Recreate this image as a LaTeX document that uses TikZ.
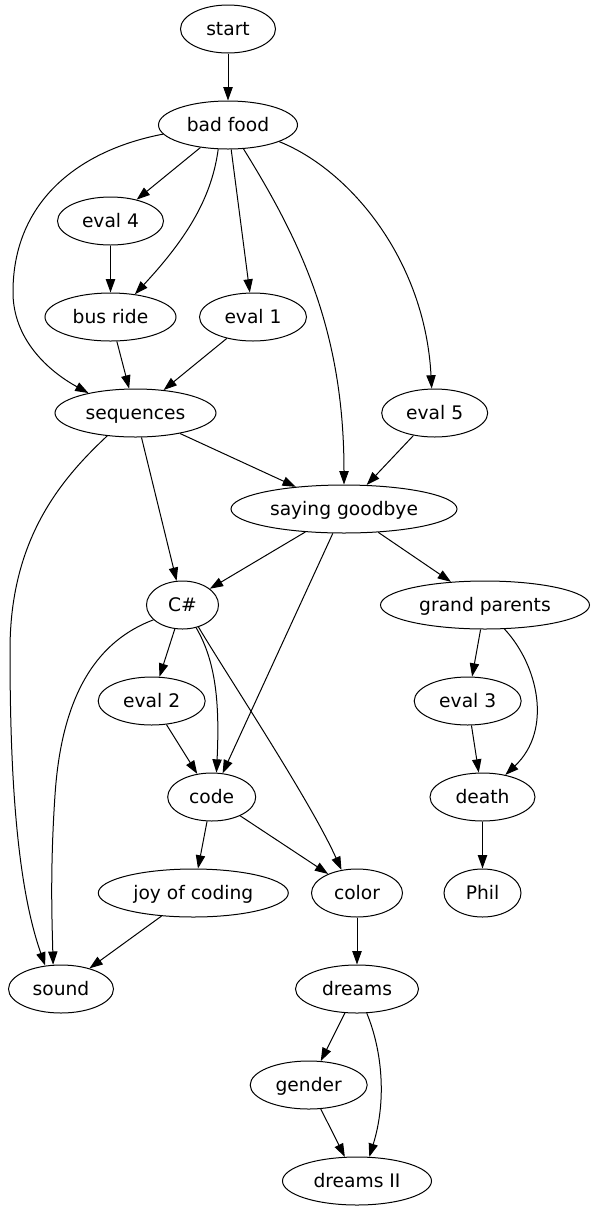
\documentclass[tikz,border=0pt]{standalone}
\usepackage{fontspec}
\setmainfont{DejaVu Sans}
\usetikzlibrary{shapes.geometric,arrows.meta}
\begin{document}
\begin{tikzpicture}[x=1pt,y=-1pt,
  gnode/.style={ellipse,draw,line width=1pt,minimum height=48pt,inner sep=0pt,
    text height=13.6pt,text depth=1.6pt,
    font=\fontsize{18.67}{22}\selectfont},
  edge/.style={line width=1pt,-{Triangle[length=13.3pt,width=9.3pt]}}]
\useasboundingbox (0,0) rectangle (595,1211);
% nodes
\node[gnode,minimum width=95pt]  (start)     at (228,29)    {start};
\node[gnode,minimum width=139pt] (badfood)   at (228,125)   {bad food};
\node[gnode,minimum width=106pt] (evalfour)  at (110.5,221) {eval 4};
\node[gnode,minimum width=131pt] (busride)   at (110.5,317) {bus ride};
\node[gnode,minimum width=107pt] (evalone)   at (253,317)   {eval 1};
\node[gnode,minimum width=161pt] (seq)       at (135.5,413) {sequences};
\node[gnode,minimum width=106pt] (evalfive)  at (434.7,413) {eval 5};
\node[gnode,minimum width=226pt] (sg)        at (344,509)   {saying goodbye};
\node[gnode,minimum width=72pt]  (cs)        at (182.5,605) {C\#};
\node[gnode,minimum width=209pt] (gp)        at (485,605)   {grand parents};
\node[gnode,minimum width=107pt] (evaltwo)   at (151.7,701) {eval 2};
\node[gnode,minimum width=107pt] (evalthree) at (467.7,701) {eval 3};
\node[gnode,minimum width=88pt]  (code)      at (211.7,797) {code};
\node[gnode,minimum width=105pt] (death)     at (482.5,797) {death};
\node[gnode,minimum width=190pt] (joy)       at (193.3,893) {joy of coding};
\node[gnode,minimum width=91pt]  (color)     at (357,893)   {color};
\node[gnode,minimum width=77pt]  (phil)      at (482.5,893) {Phil};
\node[gnode,minimum width=105pt] (sound)     at (61,989)    {sound};
\node[gnode,minimum width=123pt] (dreams)    at (357,989)   {dreams};
\node[gnode,minimum width=117pt] (gender)    at (308.7,1085){gender};
\node[gnode,minimum width=149pt] (dreamstwo) at (357,1181)  {dreams II};
% edges
\draw[edge] (start) -- (badfood);
\draw[edge] (badfood) -- (evalfour);
\draw[edge] (badfood.248) .. controls (212,195) and (190,235) .. (busride.43);
\draw[edge] (badfood) -- (evalone);
\draw[edge] (badfood.188) .. controls (80,150) and (14,200) .. (13,290)
            .. controls (12,340) and (50,372) .. (seq.157);
\draw[edge] (badfood.-57) .. controls (300,240) and (344,330) .. (sg.90);
\draw[edge] (badfood.-18) .. controls (350,170) and (425,260) .. (evalfive.97);
\draw[edge] (evalfour) -- (busride);
\draw[edge] (busride) -- (seq);
\draw[edge] (evalone) -- (seq);
\draw[edge] (seq) -- (sg);
\draw[edge] (seq) -- (cs);
\draw[edge] (seq.219) .. controls (60,480) and (10,540) .. (10,650)
            .. controls (10,760) and (15,880) .. (sound.124);
\draw[edge] (evalfive) -- (sg);
\draw[edge] (sg) -- (cs);
\draw[edge] (sg) -- (code);
\draw[edge] (sg) -- (gp);
\draw[edge] (cs) -- (evaltwo);
\draw[edge] (cs.-59) .. controls (215,660) and (220,700) .. (code.79);
\draw[edge] (cs.-54) .. controls (225,672) and (310,800) .. (color.124);
\draw[edge] (cs.207) .. controls (100,640) and (62,690) .. (55,795)
            .. controls (50,870) and (52,920) .. (sound.108);
\draw[edge] (gp) -- (evalthree);
\draw[edge] (gp.-51) .. controls (538,665) and (553,730) .. (death.44);
\draw[edge] (evaltwo) -- (code);
\draw[edge] (evalthree) -- (death);
\draw[edge] (code) -- (joy);
\draw[edge] (code) -- (color);
\draw[edge] (death) -- (phil);
\draw[edge] (joy) -- (sound);
\draw[edge] (color) -- (dreams);
\draw[edge] (dreams) -- (gender);
\draw[edge] (dreams.-68) .. controls (382,1050) and (387,1100) .. (dreamstwo.63);
\draw[edge] (gender) -- (dreamstwo);
\end{tikzpicture}
\end{document}
